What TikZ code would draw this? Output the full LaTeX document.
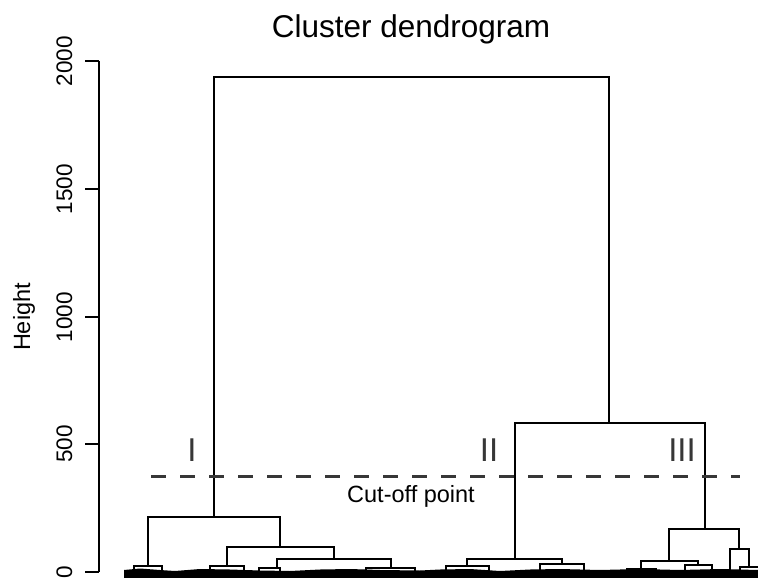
\documentclass[tikz,border=0pt]{standalone}
\usepackage{fontspec}
\setmainfont{Liberation Sans}
\definecolor{cutline}{RGB}{55,55,55}

\begin{document}
\begin{tikzpicture}[x=1pt,y=-1pt,line width=1.3pt,
  tree/.style={draw=black,line width=1.4pt},
  ticklab/.style={rotate=90,anchor=base,font=\fontsize{22.5}{22.5}\selectfont},
  cutlab/.style={anchor=base,text=cutline,font=\fontsize{33}{33}\selectfont}]
\useasboundingbox (0,0) rectangle (758,578);

% title and axis
\node[anchor=base,font=\fontsize{31.5}{31.5}\selectfont] (title) at (411,38) {Cluster dendrogram};
\node[rotate=90,anchor=base,font=\fontsize{23.5}{23.5}\selectfont] (ylab) at (30,317) {Height};
\draw (99,61) -- (99,572);
\foreach \h/\y in {2000/61,1500/189,1000/317,500/444,0/572}{
  \draw (85,\y) -- (99,\y);
  \node[ticklab] (tick\h) at (72,\y) {\h};
}

% leaves
\fill (124,578) -- (124,570) -- (140,568.5) -- (160,570) -- (175,571) -- (200,569) -- (230,569.5) -- (260,570.5) -- (290,571) -- (320,569.5) -- (350,569) -- (380,570) -- (420,570.5) -- (440,569.5) -- (470,569) -- (500,571) -- (530,569.5) -- (560,569) -- (600,570) -- (640,569) -- (680,570) -- (720,569) -- (758,570) -- (758,578) -- cycle;

% merges
\draw[tree] (214,517) |- (609,77) -- (609,423);
\draw[tree] (515,559) |- (705,423) -- (705,529);
\draw[tree] (148,566) |- (280,517) -- (280,547);
\draw[tree] (227,566) |- (334,547) -- (334,559);
\draw[tree] (277,568) |- (391,559) -- (391,568);
\draw[tree] (467,566) |- (562,559) -- (562,564);
\draw[tree] (669,561) |- (739,529) -- (739,549);
\draw[tree] (641,569) |- (698,561) -- (698,565);
\draw[tree] (730,572) |- (749,549) -- (749,567);
\draw[tree] (134,572) |- (162,566) -- (162,572);
\draw[tree] (210,572) |- (244,566) -- (244,572);
\draw[tree] (259,572) |- (280,568) -- (280,572);
\draw[tree] (366,572) |- (415,568) -- (415,572);
\draw[tree] (446,572) |- (489,566) -- (489,572);
\draw[tree] (540,572) |- (584,564) -- (584,572);
\draw[tree] (627,572) |- (656,569) -- (656,572);
\draw[tree] (685,572) |- (712,565) -- (712,572);
\draw[tree] (740,572) |- (758,567);

% cut-off
\draw[cutline,line width=3pt,dash pattern=on 15pt off 14pt] (151,476) -- (740,476);
\node[anchor=base,font=\fontsize{23.5}{23.5}\selectfont] (cutoff) at (411,502) {Cut-off point};
\node[cutlab] (one) at (192,461) {I};
\node[cutlab] (two) at (489,461) {II};
\node[cutlab] (three) at (682,461) {III};
\end{tikzpicture}
\end{document}
